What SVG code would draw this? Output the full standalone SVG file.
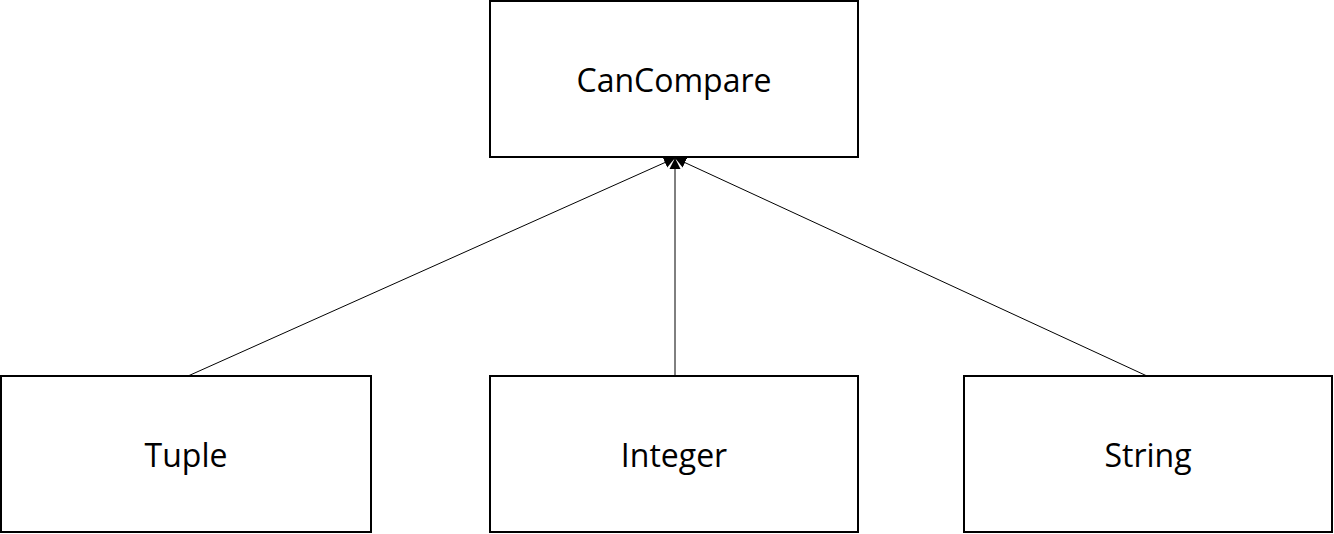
<svg xmlns="http://www.w3.org/2000/svg" width="1334" height="534" viewBox="0 0 1334 534">
<style>
.box{fill:#fff;stroke:#000;stroke-width:2}
.lbl{font-family:"Open Sans","Noto Sans",sans-serif;font-size:32px;fill:#000;text-anchor:middle}
.edge{stroke:#000;stroke-width:1;fill:none;marker-end:url(#tri)}
</style>
<defs>
<marker id="tri" markerWidth="12" markerHeight="12" refX="11" refY="6" orient="auto" markerUnits="userSpaceOnUse">
<path d="M0,0.5 L11,6 L0,11.5 Z" fill="#000"/>
</marker>
</defs>
<rect width="1334" height="534" fill="#fff"/>
<g id="connectors">
<line class="edge" x1="188" y1="376" x2="675" y2="158"/>
<line class="edge" x1="675" y1="376" x2="675" y2="158"/>
<line class="edge" x1="1147" y1="376" x2="675" y2="158"/>
</g>
<g id="CanCompare"><rect class="box" x="490" y="1" width="368" height="156"/><text class="lbl" x="674" y="92">CanCompare</text></g>
<g id="Tuple"><rect class="box" x="1" y="376" width="370" height="156"/><text class="lbl" x="186" y="467">Tuple</text></g>
<g id="Integer"><rect class="box" x="490" y="376" width="368" height="156"/><text class="lbl" x="674" y="467">Integer</text></g>
<g id="String"><rect class="box" x="964" y="376" width="368" height="156"/><text class="lbl" x="1148" y="467">String</text></g>
</svg>
